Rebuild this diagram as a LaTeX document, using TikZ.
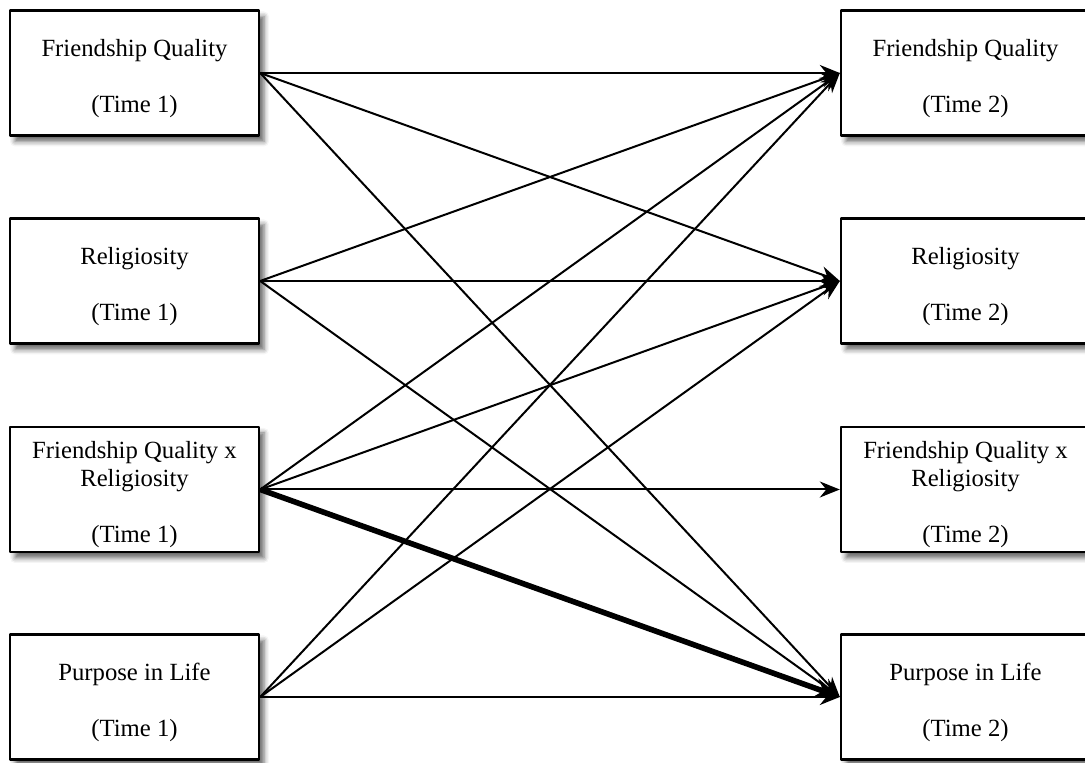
\documentclass[tikz,border=0pt]{standalone}
\usepackage{fontspec}
\setmainfont{Liberation Serif}
\usetikzlibrary{arrows.meta,shadows.blur}
\newcommand\topstrut{\rule{0pt}{14bp}}

\begin{document}
\begin{tikzpicture}[>={Stealth[length=10bp,width=8bp]},line join=bevel,
  box/.style={draw=black,line width=1.2bp,fill=white,minimum width=124.5bp,minimum height=62.5bp,
    inner sep=0pt,align=center,font=\fontsize{12.4}{14}\selectfont,
    blur shadow={shadow xshift=2.5bp,shadow yshift=-3bp,shadow blur radius=2.5bp,shadow opacity=60}},
  path/.style={black,line width=1bp,->},
  bigpath/.style={black,line width=2.8bp,-{Stealth[length=13bp,width=10bp]}}]
\useasboundingbox (0bp,0bp) rectangle (542.5bp,381.5bp);
%%
\node (node_fq1) at (67.25bp,345bp) [box] {\topstrut Friendship Quality\\[14bp](Time 1)};
  \node (node_rel1) at (67.25bp,241bp) [box] {\topstrut Religiosity\\[14bp](Time 1)};
  \node (node_int1) at (67.25bp,136.75bp) [box] {\topstrut Friendship Quality x\\Religiosity\\[14bp](Time 1)};
  \node (node_pil1) at (67.25bp,33bp) [box] {\topstrut Purpose in Life\\[14bp](Time 1)};
  \node (node_fq2) at (482.75bp,345bp) [box] {\topstrut Friendship Quality\\[14bp](Time 2)};
  \node (node_rel2) at (482.75bp,241bp) [box] {\topstrut Religiosity\\[14bp](Time 2)};
  \node (node_int2) at (482.75bp,136.75bp) [box] {\topstrut Friendship Quality x\\Religiosity\\[14bp](Time 2)};
  \node (node_pil2) at (482.75bp,33bp) [box] {\topstrut Purpose in Life\\[14bp](Time 2)};
%
\foreach \src in {fq1,rel1,int1,pil1} {
  \draw [path] (node_\src.east) -- (node_fq2.west);
  \draw [path] (node_\src.east) -- (node_rel2.west);
}
  \draw [path] (node_int1.east) -- (node_int2.west);
  \draw [path] (node_fq1.east) -- (node_pil2.west);
  \draw [path] (node_rel1.east) -- (node_pil2.west);
  \draw [path] (node_pil1.east) -- (node_pil2.west);
  \draw [bigpath] (node_int1.east) -- (node_pil2.west);
%
\end{tikzpicture}
\end{document}
